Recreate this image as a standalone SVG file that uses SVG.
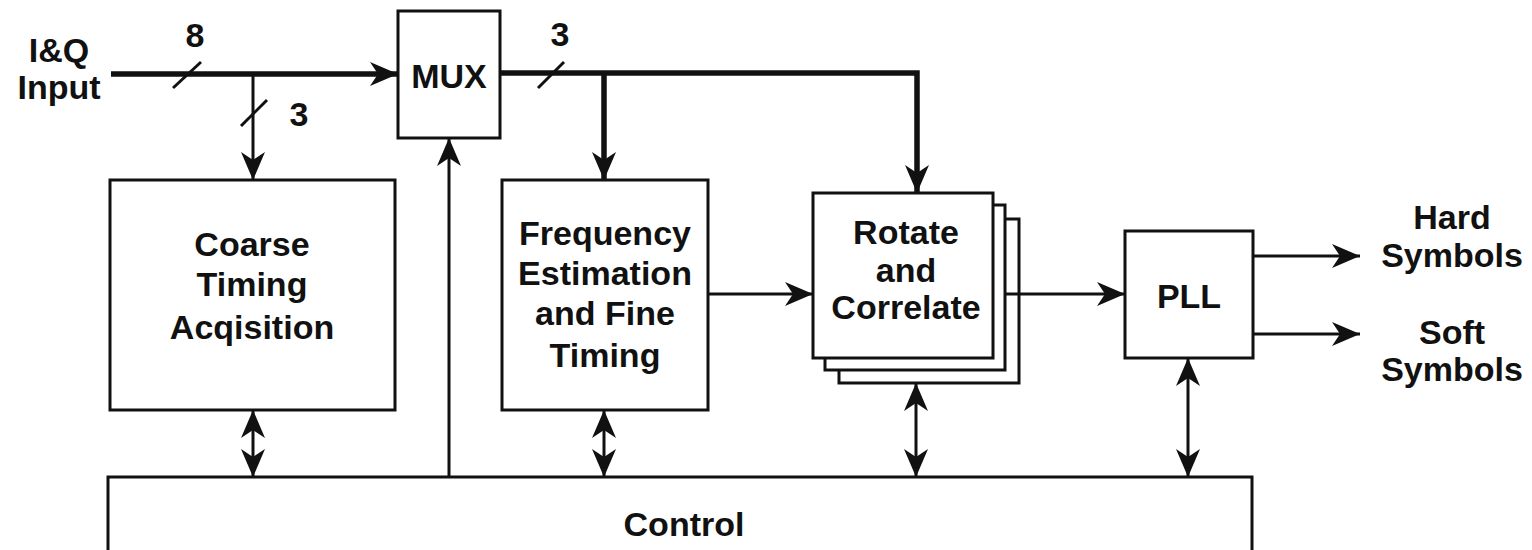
<svg xmlns="http://www.w3.org/2000/svg" width="1532" height="550" viewBox="0 0 1532 550">
<style>
.box{fill:#fff;stroke:#111;stroke-width:3}
.t{font-family:"Liberation Sans",Arial,sans-serif;font-weight:bold;font-size:34px;fill:#111;text-anchor:middle}
.thick{stroke:#111;stroke-width:5.5;fill:none}
.thin{stroke:#111;stroke-width:3;fill:none}
.sl{stroke:#111;stroke-width:3;fill:none}
</style>
<defs>
<marker id="ah" markerUnits="userSpaceOnUse" markerWidth="32" markerHeight="28" viewBox="-30 -14 32 28" refX="0" refY="0" orient="auto-start-reverse">
<path d="M0,0 L-28,-12 L-20,0 L-28,12 Z" fill="#111"/>
</marker>
</defs>
<g id="control"><path class="box" d="M108,552 V477 H1252 V552"/><text class="t" x="684" y="536">Control</text></g>
<g id="iq"><text class="t" x="59" y="62">I&amp;Q</text><text class="t" x="59" y="99">Input</text></g>
<g id="mux"><rect class="box" x="398" y="11" width="102" height="127"/><text class="t" x="449" y="88">MUX</text></g>
<g id="coarse"><rect class="box" x="110" y="180" width="285" height="230"/><text class="t" x="252" y="256">Coarse</text><text class="t" x="252" y="296">Timing</text><text class="t" x="252" y="339">Acqisition</text></g>
<g id="freq"><rect class="box" x="502" y="180" width="206" height="230"/><text class="t" x="605" y="245">Frequency</text><text class="t" x="605" y="285">Estimation</text><text class="t" x="605" y="325">and Fine</text><text class="t" x="605" y="367">Timing</text></g>
<g id="rotate"><rect class="box" x="839" y="219" width="180" height="164"/><rect class="box" x="825" y="205" width="180" height="165"/><rect class="box" x="813" y="193" width="180" height="165"/><text class="t" x="906" y="244">Rotate</text><text class="t" x="906" y="282">and</text><text class="t" x="906" y="319">Correlate</text></g>
<g id="pll"><rect class="box" x="1125" y="231" width="128" height="127"/><text class="t" x="1189" y="308">PLL</text></g>
<g id="outs"><text class="t" x="1452" y="229">Hard</text><text class="t" x="1452" y="267">Symbols</text><text class="t" x="1452" y="344">Soft</text><text class="t" x="1452" y="381">Symbols</text></g>
<g id="connectors">
<line class="thick" x1="111" y1="74" x2="398" y2="74" marker-end="url(#ah)"/>
<line class="sl" x1="173" y1="88" x2="201" y2="62"/>
<text class="t" x="195" y="47">8</text>
<line class="thin" x1="253" y1="74" x2="253" y2="180" marker-end="url(#ah)"/>
<line class="sl" x1="241" y1="126" x2="267" y2="100"/>
<text class="t" x="299" y="126">3</text>
<polyline class="thick" points="500,73 917,73 917,193" marker-end="url(#ah)"/>
<line class="thick" x1="604" y1="73" x2="604" y2="180" marker-end="url(#ah)"/>
<line class="sl" x1="538" y1="88" x2="564" y2="62"/>
<text class="t" x="560" y="46">3</text>
<line class="thin" x1="449" y1="477" x2="449" y2="138" marker-end="url(#ah)"/>
<line class="thin" x1="708" y1="294" x2="813" y2="294" marker-end="url(#ah)"/>
<line class="thin" x1="1005" y1="294" x2="1125" y2="294" marker-end="url(#ah)"/>
<line class="thin" x1="1253" y1="256" x2="1360" y2="256" marker-end="url(#ah)"/>
<line class="thin" x1="1253" y1="334" x2="1360" y2="334" marker-end="url(#ah)"/>
<line class="thin" x1="253" y1="410" x2="253" y2="477" marker-start="url(#ah)" marker-end="url(#ah)"/>
<line class="thin" x1="604" y1="410" x2="604" y2="477" marker-start="url(#ah)" marker-end="url(#ah)"/>
<line class="thin" x1="916" y1="383" x2="916" y2="477" marker-start="url(#ah)" marker-end="url(#ah)"/>
<line class="thin" x1="1188" y1="358" x2="1188" y2="477" marker-start="url(#ah)" marker-end="url(#ah)"/>
</g>
</svg>
